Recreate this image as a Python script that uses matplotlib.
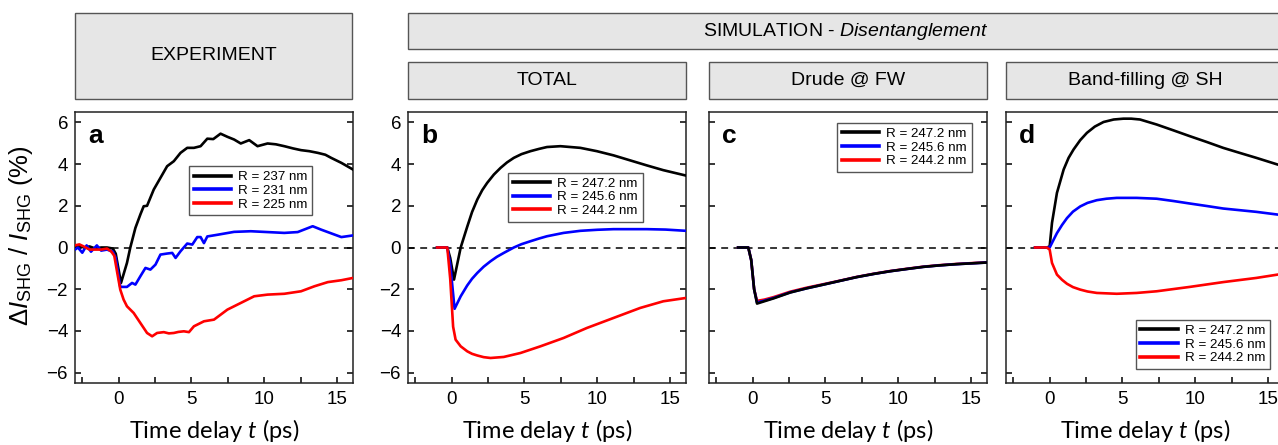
import numpy as np
import matplotlib
matplotlib.use("Agg")
import matplotlib.pyplot as plt
from matplotlib.patches import Rectangle
from matplotlib.ticker import MultipleLocator

plt.rcParams['font.family'] = ['Liberation Sans', 'DejaVu Sans']
plt.rcParams['mathtext.fontset'] = 'custom'
plt.rcParams['mathtext.rm'] = 'Liberation Sans'
plt.rcParams['mathtext.it'] = 'Lato:italic'
plt.rcParams['mathtext.sf'] = 'Liberation Sans:italic'

labels_exp = ["R = 237 nm", "R = 231 nm", "R = 225 nm"]
labels_sim = ["R = 247.2 nm", "R = 245.6 nm", "R = 244.2 nm"]
colors = ["black", "#0000ff", "#ff0000"]

# panel a - experiment
exp_black_t = [-3.0, -2.7, -2.4, -2.0, -1.6, -1.2, -0.8, -0.4, -0.2, 0.16, 0.57, 0.8, 1.15, 1.5, 1.72,
               1.95, 2.41, 2.87, 3.33, 3.79, 4.25, 4.71, 5.17, 5.63, 6.09, 6.5, 7.0, 7.47, 7.93, 8.39,
               8.97, 9.54, 10.23, 10.8, 11.38, 12.0, 12.53, 13.1, 13.68, 14.2, 14.6, 15.3, 16.1]
exp_black = [0.05, 0.1, 0.0, 0.05, -0.05, 0.0, 0.0, -0.05, -0.3, -1.7, -0.74, 0.0, 0.94, 1.6, 1.98,
             2.0, 2.78, 3.34, 3.9, 4.14, 4.54, 4.78, 4.78, 4.86, 5.22, 5.2, 5.46, 5.31, 5.18, 4.99,
             5.15, 4.86, 4.99, 4.95, 4.86, 4.75, 4.67, 4.62, 4.54, 4.45, 4.3, 4.06, 3.74]
exp_blue_t = [-3.0, -2.8, -2.5, -2.2, -1.9, -1.5, -1.2, -0.8, -0.4, -0.2, 0.11, 0.57, 0.92, 1.15, 1.49,
              1.84, 2.18, 2.53, 2.87, 3.33, 3.68, 3.91, 4.25, 4.71, 5.06, 5.4, 5.63, 5.86, 6.09, 6.78,
              7.93, 9.08, 10.23, 11.38, 12.3, 13.33, 13.9, 14.83, 15.3, 16.1]
exp_blue = [-0.1, 0.0, -0.25, 0.1, -0.2, 0.1, -0.15, -0.1, -0.2, -0.5, -1.89, -1.89, -1.70, -1.78, -1.38,
            -0.98, -1.06, -0.82, -0.34, -0.29, -0.26, -0.5, -0.18, 0.19, 0.14, 0.5, 0.5, 0.21, 0.53, 0.61,
            0.75, 0.78, 0.74, 0.7, 0.74, 1.02, 0.86, 0.62, 0.5, 0.58]
exp_red_t = [-3.0, -2.7, -2.4, -2.0, -1.6, -1.2, -0.8, -0.5, -0.3, -0.1, 0.11, 0.34, 0.57, 1.03, 1.49,
             1.95, 2.3, 2.64, 3.1, 3.45, 3.79, 4.1, 4.48, 4.83, 5.17, 5.86, 6.55, 7.47, 8.39, 9.31,
             10.23, 11.38, 12.53, 13.45, 14.37, 15.3, 16.1]
exp_red = [0.1, 0.15, 0.05, -0.1, -0.1, -0.1, -0.05, -0.2, -0.4, -1.2, -2.02, -2.5, -2.82, -3.14, -3.62,
           -4.1, -4.26, -4.1, -4.06, -4.12, -4.1, -4.05, -4.02, -4.06, -3.78, -3.54, -3.46, -2.98, -2.66, -2.34,
           -2.26, -2.22, -2.1, -1.86, -1.66, -1.57, -1.46]

# panel b - simulation total
tot_black_t = [-1.0, -0.3, -0.1, 0.16, 0.62, 1.07, 1.4, 1.76, 2.1, 2.44, 2.9, 3.36, 3.8, 4.27, 4.8,
               5.41, 6.0, 6.55, 7.47, 8.84, 9.98, 11.12, 12.26, 13.4, 14.54, 16.1]
tot_black = [0.0, 0.0, -0.5, -1.54, 0.0, 1.0, 1.7, 2.3, 2.75, 3.1, 3.5, 3.82, 4.08, 4.3, 4.48,
             4.62, 4.73, 4.82, 4.86, 4.78, 4.62, 4.42, 4.18, 3.94, 3.71, 3.45]
tot_blue_t = [-1.0, -0.3, -0.1, 0.2, 0.62, 1.07, 1.4, 1.76, 2.2, 2.67, 3.1, 3.58, 4.27, 4.8, 5.41,
              6.0, 6.55, 7.69, 8.84, 10.0, 11.12, 13.4, 14.7, 16.1]
tot_blue = [0.0, 0.0, -0.8, -2.94, -2.34, -1.82, -1.5, -1.22, -0.92, -0.66, -0.45, -0.26, 0.0, 0.16, 0.3,
            0.43, 0.54, 0.7, 0.8, 0.85, 0.88, 0.88, 0.86, 0.8]
tot_red_t = [-1.0, -0.3, -0.1, 0.1, 0.27, 0.62, 1.07, 1.4, 1.76, 2.2, 2.67, 3.58, 4.73, 6.1, 7.69,
             9.29, 11.12, 12.95, 14.54, 16.1]
tot_red = [0.0, 0.0, -1.5, -3.8, -4.42, -4.74, -4.98, -5.1, -5.18, -5.26, -5.3, -5.25, -5.06, -4.74, -4.34,
           -3.86, -3.38, -2.9, -2.58, -2.42]

# panel c - Drude @ FW
dru_t = [-1.0, -0.3, -0.1, 0.1, 0.3, 0.8, 1.44, 2.58, 3.7, 4.86, 6.0, 7.15, 8.3, 9.43, 10.6,
         11.71, 12.8, 13.99, 16.1]
dru_black = [0.0, 0.0, -0.6, -2.0, -2.69, -2.58, -2.44, -2.16, -1.96, -1.78, -1.6, -1.42, -1.27, -1.14, -1.03,
             -0.93, -0.86, -0.8, -0.72]
dru_blue = [0.0, 0.0, -0.6, -2.0, -2.64, -2.55, -2.42, -2.15, -1.96, -1.78, -1.6, -1.42, -1.27, -1.14, -1.03,
            -0.93, -0.86, -0.8, -0.72]
dru_red = [0.0, 0.0, -0.6, -2.0, -2.56, -2.5, -2.38, -2.12, -1.93, -1.76, -1.59, -1.41, -1.26, -1.13, -1.02,
           -0.92, -0.85, -0.79, -0.71]

# panel d - band-filling @ SH
bf_black_t = [-1.0, -0.2, 0.0, 0.16, 0.5, 0.96, 1.3, 1.64, 2.1, 2.56, 3.1, 3.7, 4.4, 5.07, 5.6,
              6.21, 7.35, 8.5, 9.63, 10.8, 11.92, 13.1, 14.2, 15.66, 16.1]
bf_black = [0.0, 0.0, 0.05, 1.18, 2.62, 3.74, 4.3, 4.7, 5.15, 5.5, 5.8, 6.02, 6.14, 6.18, 6.18,
            6.14, 5.9, 5.62, 5.34, 5.06, 4.78, 4.53, 4.3, 3.98, 3.9]
bf_blue_t = [-1.0, -0.2, 0.0, 0.5, 0.85, 1.19, 1.6, 2.1, 2.6, 3.24, 3.9, 4.61, 5.98, 7.35, 8.5,
             9.63, 10.8, 11.92, 14.2, 15.66, 16.1]
bf_blue = [0.0, 0.0, 0.0, 0.69, 1.08, 1.41, 1.72, 1.97, 2.14, 2.27, 2.34, 2.38, 2.38, 2.34, 2.23,
           2.11, 1.99, 1.87, 1.71, 1.58, 1.55]
bf_red_t = [-1.0, -0.2, 0.0, 0.16, 0.5, 0.85, 1.19, 1.6, 2.1, 2.6, 3.24, 4.61, 5.98, 7.35, 9.63,
            11.92, 14.2, 15.66, 16.1]
bf_red = [0.0, 0.0, -0.1, -0.74, -1.3, -1.55, -1.74, -1.9, -2.02, -2.11, -2.18, -2.22, -2.18, -2.1, -1.89,
          -1.66, -1.46, -1.3, -1.25]

W, H = 1278, 445
fig = plt.figure(figsize=(W / 100, H / 100), dpi=100)

def fx(px):
    return px / W

def fy(py):
    return 1 - py / H

ax_left = [75, 408, 709, 1006]
ax_w = 278
ax_top, ax_bot = 112, 383

panels = [
    ("a", [(exp_black_t, exp_black), (exp_blue_t, exp_blue), (exp_red_t, exp_red)], labels_exp,
     (0.41, 0.80)),
    ("b", [(tot_black_t, tot_black), (tot_blue_t, tot_blue), (tot_red_t, tot_red)], labels_sim,
     (0.36, 0.776)),
    ("c", [(dru_t, dru_black), (dru_t, dru_blue), (dru_t, dru_red)], labels_sim,
     (0.46, 0.96)),
    ("d", [(bf_black_t, bf_black), (bf_blue_t, bf_blue), (bf_red_t, bf_red)], labels_sim,
     (0.467, 0.232)),
]

for i, (letter, series, labs, legpos) in enumerate(panels):
    ax = fig.add_axes([fx(ax_left[i]), fy(ax_bot), ax_w / W, (ax_bot - ax_top) / H])
    ax.axhline(0, color="black", lw=1.1, ls=(0, (4.5, 3.5)), zorder=1)
    for k, ((t, v), c, lab) in enumerate(zip(series, colors, labs)):
        z = 3 + k
        if letter == "c":
            z = 6 - k
        ax.plot(t, v, color=c, lw=1.9, label=lab, zorder=z)
    ax.set_xlim(-3, 16.1)
    ax.set_ylim(-6.5, 6.5)
    ax.xaxis.set_major_locator(MultipleLocator(5))
    ax.xaxis.set_minor_locator(MultipleLocator(2.5))
    ax.yaxis.set_major_locator(MultipleLocator(2))
    ax.tick_params(which="both", direction="in", top=False, right=True, length=4.5, width=1.1,
                   labelsize=13.5, pad=6)
    ax.tick_params(axis="y", pad=5)
    if i >= 2:
        ax.tick_params(axis="y", labelleft=False)
    for s in ax.spines.values():
        s.set_linewidth(1.1)
        s.set_color("#222222")
    ax.set_xlabel("Time delay $\\mathit{t}$ (ps)", fontsize=17, family="Lato", labelpad=6)
    ax.text(0.047, 0.887, letter, transform=ax.transAxes, fontsize=19, fontweight="bold",
            va="baseline", ha="left")
    handles, hl = ax.get_legend_handles_labels()
    leg = ax.legend(handles, hl, loc="upper left", bbox_to_anchor=legpos, borderaxespad=0,
                    fontsize=9.6, frameon=True, fancybox=False, framealpha=1, edgecolor="#555555",
                    handlelength=2.8, handletextpad=0.55, labelspacing=0.1, borderpad=0.35)
    leg.get_frame().set_linewidth(1.0)
    for h in leg.legend_handles:
        h.set_linewidth(2.6)

fig.text(fx(21), fy(236), "$\\Delta\\mathsf{I}_{\\rm SHG}$ / $\\mathsf{I}_{\\rm SHG}$ (%)",
         rotation=90, ha="center", va="center", fontsize=18.5)

# header boxes
boxes = [
    (75, 12.7, 352, 99, "EXPERIMENT"),
    (408, 12.7, 1284, 49.3, "SIMULATION - $\\mathsf{Disentanglement}$"),
    (408, 61.7, 686, 99, "TOTAL"),
    (709, 61.7, 987, 99, "Drude @ FW"),
    (1006, 61.7, 1284, 99, "Band-filling @ SH"),
]
for x0, y0, x1, y1, txt in boxes:
    fig.patches.append(Rectangle((fx(x0), fy(y1)), (x1 - x0) / W, (y1 - y0) / H,
                                 transform=fig.transFigure, facecolor="#e6e6e6",
                                 edgecolor="#555555", lw=1.0))
    fig.text(fx((x0 + x1) / 2), fy((y0 + y1) / 2), txt, ha="center", va="center", fontsize=14)

fig.savefig("out.png", dpi=100)
